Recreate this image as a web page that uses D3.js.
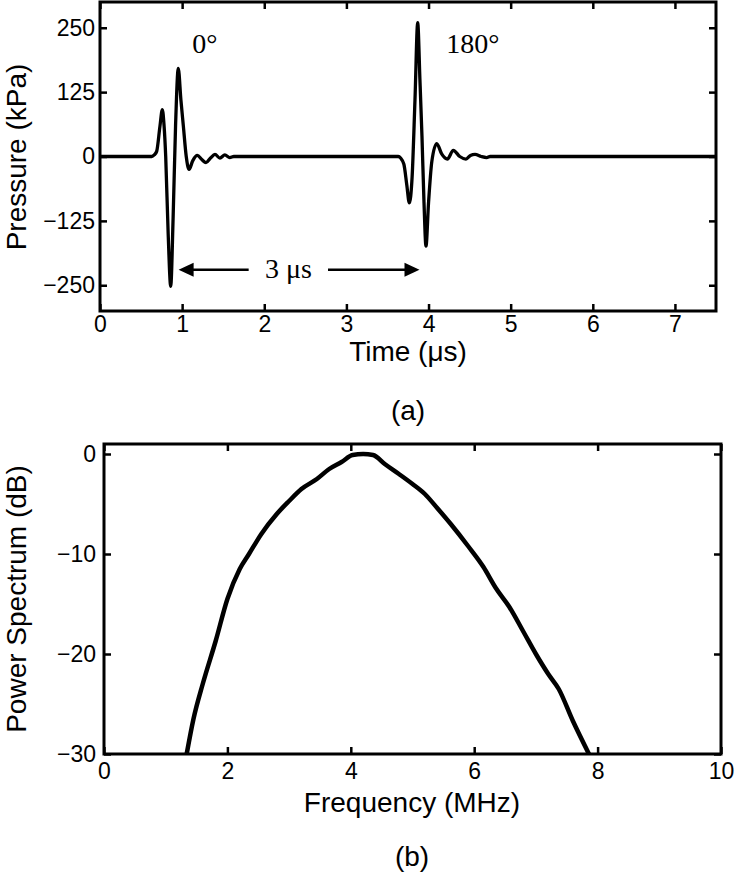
<!DOCTYPE html>
<html><head><meta charset="utf-8">
<script src="https://cdn.jsdelivr.net/npm/d3@7"></script>
<style>body{margin:0;background:#fff;} svg{display:block;}</style>
</head><body><svg id="c" width="736" height="872"></svg>
<script>
// ---------- Data: panel (a) pressure waveform ----------
const timeTicks = [0,1,2,3,4,5,6,7];
const pressureTicks = [-250,-125,0,125,250];
const waveTime = [0, 0.60, 0.63, 0.66, 0.69, 0.73, 0.759, 0.78, 0.80, 0.83, 0.861, 0.89, 0.92, 0.953, 0.985, 1.015, 1.05, 1.084, 1.13, 1.185, 1.24, 1.29, 1.345, 1.40, 1.46, 1.52, 1.58, 1.63,
  3.60, 3.632, 3.66, 3.70, 3.735, 3.766, 3.80, 3.835, 3.868, 3.895, 3.92, 3.945, 3.969, 4.00, 4.04, 4.10, 4.16, 4.229, 4.302, 4.38, 4.456, 4.51, 4.566, 4.64, 4.708, 4.75, 7.5];
const wavePressure = [0, 0, 0, 3, 10, 59, 91, 60, 0, -150, -252, -120, 60, 171, 110, 59, 0, -25, -8, 2, -6, -12, -3, 4, -3, 3, -2, 0,
  0, 0, -3, -15, -55, -90, -40, 110, 260, 150, 40, -90, -174, -90, -10, 25, 5, -5, 12, 0, -5, 2, 4, 0, -2, 0, 0];
const phaseLabels = ["0°", "180°"];
const phaseLabelTime = [1.278, 4.54];
const phaseLabelPressure = [201, 201];
const spanLabel = "3 μs";
const spanArrowTime = [0.957, 1.81, 2.776, 3.89]; // left tip, left end, right start, right tip
const spanArrowPressure = -220;
const spanLabelPos = [2.296, -236];

// ---------- Data: panel (b) power spectrum ----------
const freqTicks = [0,2,4,6,8,10];
const dbTicks = [-30,-20,-10,0];
const specFreq = [1.34, 1.45, 1.60, 1.81, 2.0, 2.2, 2.35, 2.55, 2.8, 3.0, 3.2, 3.45, 3.65, 3.85, 4.03, 4.2, 4.36, 4.55, 4.78, 5.0, 5.2, 5.4, 5.62, 5.9, 6.15, 6.35, 6.57, 6.8, 7.0, 7.2, 7.37, 7.6, 7.86];
const specDb = [-30, -26.5, -23, -18.7, -14.5, -11.5, -10, -8, -6.0, -4.7, -3.5, -2.5, -1.5, -0.8, -0.1, 0, -0.1, -1.0, -2.0, -3.0, -4.0, -5.4, -7, -9.2, -11.3, -13.4, -15.3, -17.8, -20, -22, -23.5, -26.7, -30];

const SANS = '"Liberation Sans", Arial, Helvetica, sans-serif';
const SERIF = '"Liberation Serif", "Times New Roman", serif';
const svg = d3.select('#c');

const xA = d3.scaleLinear().domain([0,7.5]).range([100,716]);
const yA = d3.scaleLinear().domain([-300,300]).range([311,2]);
const xB = d3.scaleLinear().domain([0,10]).range([104,721]);
const yB = d3.scaleLinear().domain([-30,1]).range([754,444]);

function drawAxes(x, y, xt, yt, padX, padY) {
  const [x0,x1] = x.range(), [y0,y1] = y.range();
  const g = svg.append('g');
  g.append('g').attr('transform',`translate(0,${y0})`)
    .call(d3.axisBottom(x).tickValues(xt).tickSizeInner(-7).tickSizeOuter(0).tickPadding(padX).tickFormat(d3.format('d')));
  g.append('g').attr('transform',`translate(0,${y1})`)
    .call(d3.axisTop(x).tickValues(xt).tickSizeInner(-7).tickSizeOuter(0).tickFormat(''));
  g.append('g').attr('transform',`translate(${x0},0)`)
    .call(d3.axisLeft(y).tickValues(yt).tickSizeInner(-7).tickSizeOuter(0).tickPadding(padY));
  g.append('g').attr('transform',`translate(${x1},0)`)
    .call(d3.axisRight(y).tickValues(yt).tickSizeInner(-7).tickSizeOuter(0).tickFormat(''));
  g.selectAll('.domain').remove();
  g.selectAll('.tick line').attr('stroke','#000').attr('stroke-width',2.5);
  g.selectAll('.tick text').attr('font-size',23).attr('font-family',SANS).attr('fill','#000');
  g.append('rect').attr('x',x0).attr('y',y1).attr('width',x1-x0).attr('height',y0-y1)
    .attr('fill','none').attr('stroke','#000').attr('stroke-width',3);
  return g;
}

function text(x, y, s, size, opts={}) {
  const t = svg.append('text').attr('x',x).attr('y',y).text(s)
    .attr('font-size',size).attr('font-family',opts.family||SANS)
    .attr('text-anchor',opts.anchor||'middle').attr('fill','#000');
  if (opts.rotate) t.attr('transform',`rotate(-90,${x},${y})`);
  return t;
}

// ----- Panel (a) -----
const wave = waveTime.map((t,i)=>[t, wavePressure[i]]);
svg.append('path').datum(wave)
  .attr('d', d3.line().x(d=>xA(d[0])).y(d=>yA(d[1])).curve(d3.curveMonotoneX))
  .attr('fill','none').attr('stroke','#000').attr('stroke-width',3.3).attr('stroke-linejoin','round');
drawAxes(xA, yA, timeTicks, pressureTicks, 5, 5);

phaseLabels.forEach((s,i)=> text(xA(phaseLabelTime[i]), yA(phaseLabelPressure[i]), s, 28, {family:SERIF}));
// 3 µs arrow
const ay = yA(spanArrowPressure);
svg.append('line').attr('x1',xA(spanArrowTime[0])+10).attr('x2',xA(spanArrowTime[1])).attr('y1',ay).attr('y2',ay).attr('stroke','#000').attr('stroke-width',2.5);
svg.append('line').attr('x1',xA(spanArrowTime[2])).attr('x2',xA(spanArrowTime[3])-10).attr('y1',ay).attr('y2',ay).attr('stroke','#000').attr('stroke-width',2.5);
const lt = xA(spanArrowTime[0]), rt = xA(spanArrowTime[3]);
svg.append('path').attr('d',`M${lt},${ay} L${lt+15},${ay-7} L${lt+15},${ay+7} Z`).attr('fill','#000');
svg.append('path').attr('d',`M${rt},${ay} L${rt-15},${ay-7} L${rt-15},${ay+7} Z`).attr('fill','#000');
text(xA(spanLabelPos[0]), yA(spanLabelPos[1]), spanLabel, 28, {family:SERIF});

text(408, 361, 'Time (μs)', 28);
text(26, 157, 'Pressure (kPa)', 28, {rotate:true});
text(408, 420, '(a)', 28);

// ----- Panel (b) -----
const spec = specFreq.map((f,i)=>[f, specDb[i]]);
svg.append('path').datum(spec)
  .attr('d', d3.line().x(d=>xB(d[0])).y(d=>yB(d[1])).curve(d3.curveMonotoneX))
  .attr('fill','none').attr('stroke','#000').attr('stroke-width',4.5).attr('stroke-linejoin','round');
drawAxes(xB, yB, freqTicks, dbTicks, 9, 8);

text(412, 812, 'Frequency (MHz)', 28);
text(26, 599, 'Power Spectrum (dB)', 28, {rotate:true});
text(412, 866, '(b)', 28);
</script>
</body></html>
